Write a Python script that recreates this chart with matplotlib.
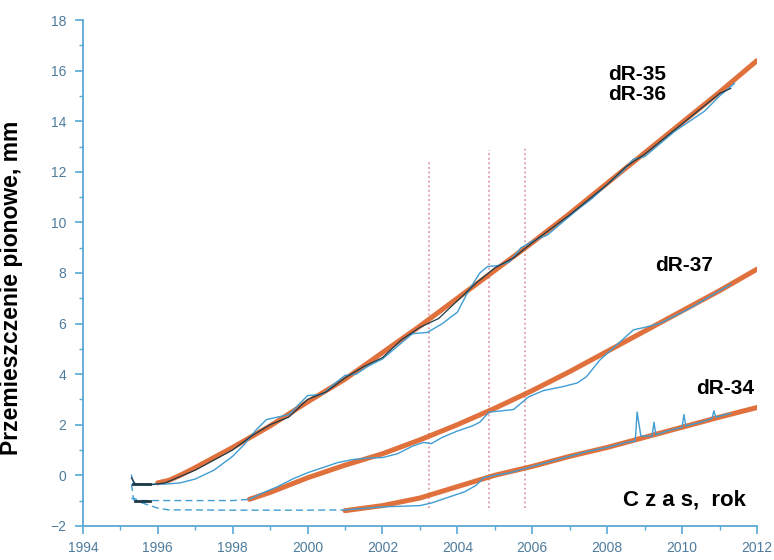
import matplotlib
matplotlib.use("Agg")
import matplotlib.pyplot as plt
import numpy as np

plt.rcParams['font.family'] = ['Liberation Sans', 'DejaVu Sans']

# trend lines (orange)
trend_a_years = [1996.0, 1996.3, 1996.6, 1997.0, 1998.0, 1999.0, 2000.0, 2001.0, 2002.0, 2003.0,
                 2004.0, 2005.0, 2006.0, 2007.0, 2008.0, 2009.0, 2010.0, 2011.0, 2012.0]
trend_a_vals = [-0.3, -0.2, 0.0, 0.3, 1.1, 1.95, 2.9, 3.8, 4.85, 5.9,
                7.0, 8.1, 9.2, 10.35, 11.55, 12.75, 13.95, 15.15, 16.4]
trend_b_years = [1998.45, 1999.0, 2000.0, 2001.0, 2002.0, 2003.0, 2004.0, 2005.0, 2006.0,
                 2007.0, 2008.0, 2009.0, 2010.0, 2011.0, 2012.0]
trend_b_vals = [-0.95, -0.68, -0.1, 0.4, 0.85, 1.4, 2.0, 2.65, 3.35,
                4.1, 4.9, 5.7, 6.5, 7.3, 8.15]
trend_c_years = [2001.0, 2002.0, 2003.0, 2004.0, 2005.0, 2006.0, 2007.0, 2008.0,
                 2009.0, 2010.0, 2011.0, 2012.0]
trend_c_vals = [-1.4, -1.2, -0.9, -0.45, 0.0, 0.35, 0.75, 1.1, 1.5, 1.9, 2.3, 2.68]

# measured series dR-35 (blue) and dR-36 (dark)
r35_years = [1995.30, 1995.35, 1995.45, 1995.8, 1996.2, 1996.6, 1997.0, 1997.5, 1998.0, 1998.3,
             1998.6, 1998.9, 1999.2, 1999.5, 1999.8, 2000.0, 2000.4, 2000.7, 2001.0, 2001.3,
             2001.6, 2002.0, 2002.4, 2002.8, 2003.2, 2003.6, 2004.0, 2004.3, 2004.6, 2004.8,
             2005.1, 2005.4, 2005.7, 2006.0, 2006.4, 2006.8, 2007.2, 2007.6, 2008.0, 2008.4,
             2008.7, 2009.0, 2009.4, 2009.8, 2010.2, 2010.6, 2011.0, 2011.4]
r35_vals = [0.0, -0.3, -0.35, -0.35, -0.35, -0.3, -0.15, 0.2, 0.75, 1.2,
            1.75, 2.2, 2.3, 2.4, 2.85, 3.15, 3.2, 3.6, 3.95, 4.0,
            4.3, 4.6, 5.1, 5.6, 5.65, 6.0, 6.45, 7.3, 8.0, 8.25,
            8.3, 8.45, 9.0, 9.25, 9.5, 10.0, 10.5, 10.95, 11.5, 12.0,
            12.5, 12.6, 13.1, 13.6, 14.0, 14.4, 15.0, 15.5]
r36_years = [1995.30, 1995.4, 1995.8, 1996.2, 1996.6, 1997.0, 1997.5, 1998.0, 1998.5, 1999.0,
             1999.5, 2000.0, 2000.5, 2001.0, 2001.5, 2002.0, 2002.5, 2003.0, 2003.5, 2004.0,
             2004.5, 2005.0, 2005.5, 2006.0, 2006.5, 2007.0, 2007.5, 2008.0, 2008.5, 2009.0,
             2009.5, 2010.0, 2010.5, 2011.0, 2011.3]
r36_vals = [-0.1, -0.35, -0.38, -0.3, -0.05, 0.2, 0.6, 1.0, 1.55, 2.0,
            2.3, 3.0, 3.3, 3.85, 4.3, 4.65, 5.35, 5.85, 6.2, 6.9,
            7.6, 8.2, 8.6, 9.2, 9.75, 10.3, 10.9, 11.5, 12.2, 12.7,
            13.3, 13.9, 14.5, 15.1, 15.3]

# measured series dR-37
r37_years = [1995.3, 1995.35, 1995.5, 1996.0, 1997.0, 1998.0, 1998.45, 1998.8, 1999.2, 1999.6,
             2000.0, 2000.4, 2000.8, 2001.2, 2001.6, 2002.0, 2002.4, 2002.8, 2003.1, 2003.3,
             2003.6, 2004.0, 2004.4, 2004.6, 2004.85, 2005.2, 2005.5, 2005.9, 2006.3, 2006.8,
             2007.2, 2007.45, 2007.8, 2008.1, 2008.4, 2008.7, 2009.0, 2009.4, 2009.8, 2010.2,
             2010.6, 2011.0, 2011.3]
r37_vals = [-0.35, -0.9, -1.0, -1.0, -1.0, -1.0, -0.95, -0.7, -0.45, -0.15,
            0.1, 0.3, 0.5, 0.62, 0.68, 0.7, 0.85, 1.15, 1.3, 1.25,
            1.5, 1.75, 1.95, 2.1, 2.5, 2.55, 2.6, 3.1, 3.35, 3.5,
            3.65, 3.9, 4.55, 4.95, 5.35, 5.75, 5.85, 6.0, 6.3, 6.6,
            6.95, 7.3, 7.55]

# measured series dR-34
r34_years = [1995.3, 1995.4, 1995.7, 1996.0, 1996.3, 1997.0, 1998.0, 1999.0, 2000.0, 2001.0,
             2002.0, 2003.0, 2003.3, 2003.8, 2004.2, 2004.5, 2004.7, 2005.0, 2005.4, 2006.0,
             2006.5, 2007.0, 2007.5, 2008.0, 2008.5, 2008.75, 2008.8, 2008.9, 2009.2, 2009.25,
             2009.3, 2009.6, 2010.0, 2010.05, 2010.1, 2010.5, 2010.8, 2010.85, 2010.9, 2011.3]
r34_vals = [-0.9, -1.0, -1.15, -1.3, -1.37, -1.37, -1.38, -1.38, -1.38, -1.37,
            -1.25, -1.2, -1.1, -0.85, -0.65, -0.4, -0.1, 0.0, 0.1, 0.35,
            0.55, 0.75, 0.95, 1.1, 1.3, 1.35, 2.5, 1.55, 1.55, 2.1,
            1.6, 1.75, 1.9, 2.4, 1.95, 2.1, 2.25, 2.55, 2.3, 2.45]

# vertical dotted marks
vline_years = [2003.23, 2004.85, 2005.81]
vline_tops = [12.4, 12.85, 13.0]
vline_bottom = -1.3

orange = '#e0703c'
blue = '#3f9dd2'
dark = '#1d3a48'
axcol = '#5aa8d6'
tickcol = '#4f7c9c'

fig = plt.figure(figsize=(7.74, 5.6), dpi=100)
ax = fig.add_axes([0.107, 0.061, 0.871, 0.903])

for x, top in zip(vline_years, vline_tops):
    ax.plot([x, x], [vline_bottom, top], color='#d88a9c', lw=1.1, ls=(0, (1.2, 1.8)), zorder=1)


def draw_measured(years, vals, start, color, lw):
    # flat part before the trend starts is dashed, the rest solid
    years = np.array(years)
    vals = np.array(vals)
    flat = years <= start + 0.05
    ax.plot(years[flat], vals[flat], color=color, lw=lw, ls=(0, (5, 3)), zorder=3)
    rest = years >= start - 0.1
    ax.plot(years[rest], vals[rest], color=color, lw=lw, zorder=3)


ax.plot(trend_a_years, trend_a_vals, color=orange, lw=3.6, solid_capstyle='round', zorder=2)
ax.plot(trend_b_years, trend_b_vals, color=orange, lw=3.6, solid_capstyle='round', zorder=2)
ax.plot(trend_c_years, trend_c_vals, color=orange, lw=3.6, solid_capstyle='round', zorder=2)

ax.plot(r35_years, r35_vals, color=blue, lw=1.0, zorder=3)
ax.plot(r36_years, r36_vals, color=dark, lw=0.9, zorder=3)
draw_measured(r37_years, r37_vals, 1998.45, blue, 1.0)
draw_measured(r34_years, r34_vals, 2001.0, blue, 1.0)
# dark start segments
ax.plot([1995.35, 1995.8], [-0.35, -0.35], color=dark, lw=2, zorder=4)
ax.plot([1995.4, 1995.8], [-1.0, -1.0], color=dark, lw=2, zorder=4)

ax.set_xlim(1994, 2012)
ax.set_ylim(-2, 18)
ax.set_xticks(np.arange(1994, 2013, 2))
ax.set_xticks(np.arange(1994, 2013, 1), minor=True)
ax.set_yticks(np.arange(-2, 19, 2))
ax.set_yticks(np.arange(-2, 19, 1), minor=True)

for s in ['top', 'right']:
    ax.spines[s].set_visible(False)
for s in ['left', 'bottom']:
    ax.spines[s].set_color(axcol)
    ax.spines[s].set_linewidth(1.3)

ax.tick_params(which='major', direction='out', length=6, width=1.2, color=axcol,
               labelcolor=tickcol, labelsize=10, pad=5)
ax.tick_params(which='minor', direction='out', length=3, width=1.0, color=axcol)
ax.tick_params(axis='y', pad=6)

ax.set_ylabel('Przemieszczenie pionowe, mm', fontsize=16.5, fontweight='bold')
ax.yaxis.set_label_coords(-0.089, 0.47)

ax.text(2008.8, 15.45, 'dR-35\ndR-36', fontsize=15, fontweight='bold', ha='center',
        va='center', linespacing=1.1)
ax.text(2010.05, 8.3, 'dR-37', fontsize=15, fontweight='bold', ha='center', va='center')
ax.text(2011.15, 3.45, 'dR-34', fontsize=15, fontweight='bold', ha='center', va='center')
ax.text(2010.05, -0.97, 'C z a s,  rok', fontsize=16, fontweight='bold', ha='center', va='center')

fig.savefig('out.png', dpi=100)
